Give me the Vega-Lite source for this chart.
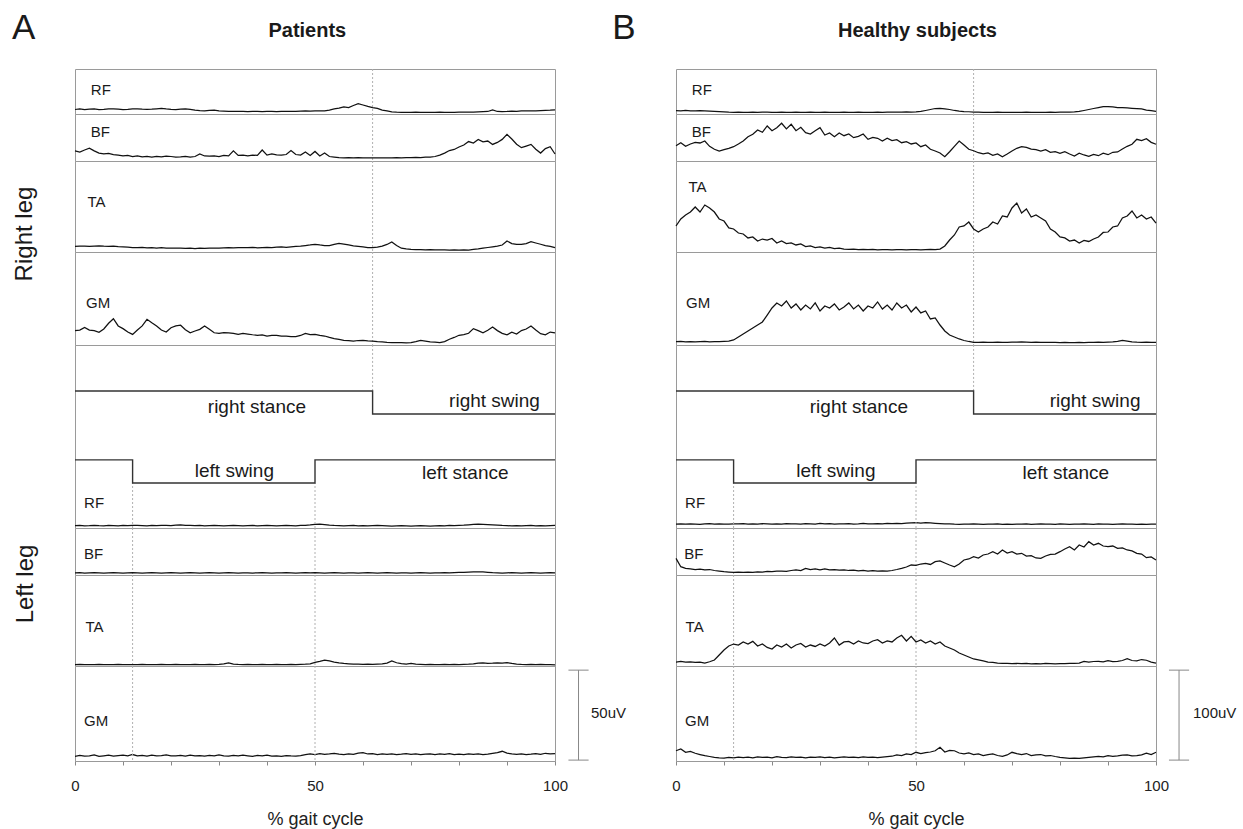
{
"$schema":"https://vega.github.io/schema/vega-lite/v6.json",
"background":"white",
"padding":{"left":11,"top":10,"right":5,"bottom":5},
"bounds":"flush",
"columns":2,
"spacing":{"row":0,"column":121},
"config":{"view":{"stroke":"#9a9a9a","strokeWidth":1},"font":"Liberation Sans","text":{"color":"#1a1a1a","font":"Liberation Sans"},"axis":{"labelFont":"Liberation Sans","titleFont":"Liberation Sans"},"line":{"color":"#111","strokeWidth":1.25}},
"datasets":{
"events":[{"event":"right toe-off","leg":"right","x":62},{"event":"left toe-off","leg":"left","x":12},{"event":"left heel strike","leg":"left","x":50}],
"gait":[{"leg":"right","x":0,"level":7.49},{"leg":"right","x":62,"level":6.23},{"leg":"right","x":100,"level":6.23},{"leg":"left","x":0,"level":3.72},{"leg":"left","x":12,"level":2.46},{"leg":"left","x":50,"level":3.72},{"leg":"left","x":100,"level":3.72}],
"scaleA":[{"lo":0.5,"hi":50.5,"label":"50uV"}],
"scaleB":[{"lo":1,"hi":101,"label":"100uV"}],
"patients":[
{"x":0,"RFr":2.5,"BFr":5.6,"TAr":3.1,"GMr":8.0,"RFl":1.3,"BFl":1.2,"TAl":0.8,"GMl":2.6},
{"x":1,"RFr":2.8,"BFr":5.0,"TAr":3.2,"GMr":8.3,"RFl":1.4,"BFl":1.3,"TAl":0.9,"GMl":3.1},
{"x":2,"RFr":2.5,"BFr":6.1,"TAr":3.3,"GMr":9.8,"RFl":1.2,"BFl":1.1,"TAl":0.8,"GMl":2.7},
{"x":3,"RFr":2.7,"BFr":7.1,"TAr":3.1,"GMr":8.3,"RFl":1.3,"BFl":1.2,"TAl":0.7,"GMl":2.9},
{"x":4,"RFr":2.8,"BFr":5.6,"TAr":3.3,"GMr":8.0,"RFl":1.5,"BFl":1.3,"TAl":0.8,"GMl":3.4},
{"x":5,"RFr":2.5,"BFr":4.4,"TAr":3.4,"GMr":7.1,"RFl":1.3,"BFl":1.2,"TAl":0.9,"GMl":2.6},
{"x":6,"RFr":2.6,"BFr":3.9,"TAr":3.2,"GMr":8.9,"RFl":1.2,"BFl":1.1,"TAl":0.8,"GMl":2.9},
{"x":7,"RFr":2.8,"BFr":4.2,"TAr":3.1,"GMr":12.1,"RFl":1.4,"BFl":1.2,"TAl":0.7,"GMl":3.2},
{"x":8,"RFr":2.9,"BFr":3.6,"TAr":3.2,"GMr":14.6,"RFl":1.3,"BFl":1.3,"TAl":0.8,"GMl":2.7},
{"x":9,"RFr":2.7,"BFr":3.3,"TAr":3.0,"GMr":10.6,"RFl":1.2,"BFl":1.2,"TAl":0.9,"GMl":3.0},
{"x":10,"RFr":2.5,"BFr":2.8,"TAr":2.9,"GMr":9.1,"RFl":1.4,"BFl":1.1,"TAl":0.8,"GMl":3.3},
{"x":11,"RFr":2.6,"BFr":3.1,"TAr":2.7,"GMr":7.2,"RFl":1.3,"BFl":1.2,"TAl":0.8,"GMl":2.8},
{"x":12,"RFr":2.8,"BFr":2.5,"TAr":2.5,"GMr":5.9,"RFl":1.5,"BFl":1.3,"TAl":0.7,"GMl":3.6},
{"x":13,"RFr":2.9,"BFr":2.8,"TAr":2.4,"GMr":8.3,"RFl":1.4,"BFl":1.2,"TAl":0.8,"GMl":2.9},
{"x":14,"RFr":2.7,"BFr":2.3,"TAr":2.6,"GMr":10.6,"RFl":1.3,"BFl":1.1,"TAl":0.9,"GMl":3.1},
{"x":15,"RFr":2.6,"BFr":2.5,"TAr":2.3,"GMr":14.3,"RFl":1.2,"BFl":1.2,"TAl":0.8,"GMl":2.7},
{"x":16,"RFr":2.7,"BFr":2.2,"TAr":2.4,"GMr":12.4,"RFl":1.4,"BFl":1.3,"TAl":0.7,"GMl":3.2},
{"x":17,"RFr":2.9,"BFr":2.5,"TAr":2.2,"GMr":10.6,"RFl":1.3,"BFl":1.2,"TAl":0.8,"GMl":2.9},
{"x":18,"RFr":3.1,"BFr":2.3,"TAr":2.4,"GMr":8.3,"RFl":1.5,"BFl":1.1,"TAl":0.9,"GMl":3.0},
{"x":19,"RFr":2.8,"BFr":2.7,"TAr":2.2,"GMr":7.2,"RFl":1.4,"BFl":1.2,"TAl":0.8,"GMl":3.4},
{"x":20,"RFr":2.6,"BFr":2.5,"TAr":2.1,"GMr":9.6,"RFl":1.3,"BFl":1.3,"TAl":0.8,"GMl":2.8},
{"x":21,"RFr":2.5,"BFr":2.2,"TAr":2.1,"GMr":10.6,"RFl":1.6,"BFl":1.2,"TAl":0.9,"GMl":2.9},
{"x":22,"RFr":2.7,"BFr":2.3,"TAr":2.2,"GMr":11.0,"RFl":1.7,"BFl":1.1,"TAl":0.8,"GMl":3.1},
{"x":23,"RFr":2.8,"BFr":2.6,"TAr":2.0,"GMr":8.5,"RFl":1.5,"BFl":1.2,"TAl":0.7,"GMl":2.7},
{"x":24,"RFr":2.6,"BFr":2.2,"TAr":2.1,"GMr":6.8,"RFl":1.4,"BFl":1.3,"TAl":0.8,"GMl":3.3},
{"x":25,"RFr":2.2,"BFr":2.5,"TAr":1.9,"GMr":7.8,"RFl":1.3,"BFl":1.2,"TAl":0.9,"GMl":2.9},
{"x":26,"RFr":1.9,"BFr":3.9,"TAr":2.1,"GMr":8.7,"RFl":1.4,"BFl":1.1,"TAl":0.8,"GMl":3.0},
{"x":27,"RFr":1.8,"BFr":2.8,"TAr":2.0,"GMr":10.6,"RFl":1.2,"BFl":1.2,"TAl":0.8,"GMl":2.7},
{"x":28,"RFr":2.0,"BFr":2.7,"TAr":2.2,"GMr":8.7,"RFl":1.3,"BFl":1.3,"TAl":0.9,"GMl":3.1},
{"x":29,"RFr":2.1,"BFr":2.9,"TAr":2.1,"GMr":6.8,"RFl":1.4,"BFl":1.2,"TAl":0.8,"GMl":2.8},
{"x":30,"RFr":1.8,"BFr":2.5,"TAr":2.2,"GMr":6.5,"RFl":1.3,"BFl":1.1,"TAl":0.9,"GMl":3.4},
{"x":31,"RFr":1.6,"BFr":3.1,"TAr":2.3,"GMr":6.9,"RFl":1.2,"BFl":1.2,"TAl":1.2,"GMl":2.9},
{"x":32,"RFr":1.4,"BFr":2.8,"TAr":2.4,"GMr":6.8,"RFl":1.3,"BFl":1.3,"TAl":1.7,"GMl":2.7},
{"x":33,"RFr":1.4,"BFr":5.6,"TAr":2.3,"GMr":6.4,"RFl":1.4,"BFl":1.2,"TAl":1.1,"GMl":3.1},
{"x":34,"RFr":1.5,"BFr":3.1,"TAr":2.5,"GMr":5.9,"RFl":1.3,"BFl":1.1,"TAl":0.9,"GMl":2.8},
{"x":35,"RFr":1.4,"BFr":3.3,"TAr":2.4,"GMr":6.4,"RFl":1.2,"BFl":1.2,"TAl":0.8,"GMl":3.2},
{"x":36,"RFr":1.3,"BFr":2.9,"TAr":2.4,"GMr":6.1,"RFl":1.3,"BFl":1.2,"TAl":0.9,"GMl":2.9},
{"x":37,"RFr":1.4,"BFr":3.3,"TAr":2.6,"GMr":5.7,"RFl":1.4,"BFl":1.1,"TAl":0.8,"GMl":2.6},
{"x":38,"RFr":1.4,"BFr":3.1,"TAr":2.3,"GMr":5.4,"RFl":1.2,"BFl":1.2,"TAl":0.8,"GMl":3.1},
{"x":39,"RFr":1.3,"BFr":6.1,"TAr":2.5,"GMr":5.6,"RFl":1.3,"BFl":1.3,"TAl":0.9,"GMl":2.8},
{"x":40,"RFr":1.4,"BFr":3.3,"TAr":2.6,"GMr":5.0,"RFl":1.4,"BFl":1.2,"TAl":0.8,"GMl":3.3},
{"x":41,"RFr":1.4,"BFr":3.9,"TAr":2.4,"GMr":5.3,"RFl":1.3,"BFl":1.1,"TAl":0.8,"GMl":2.7},
{"x":42,"RFr":1.3,"BFr":3.4,"TAr":2.7,"GMr":5.4,"RFl":1.2,"BFl":1.2,"TAl":0.9,"GMl":2.9},
{"x":43,"RFr":1.4,"BFr":3.2,"TAr":2.8,"GMr":4.9,"RFl":1.3,"BFl":1.2,"TAl":0.8,"GMl":2.6},
{"x":44,"RFr":1.5,"BFr":3.6,"TAr":2.6,"GMr":5.0,"RFl":1.4,"BFl":1.3,"TAl":0.8,"GMl":3.0},
{"x":45,"RFr":1.4,"BFr":5.8,"TAr":2.9,"GMr":4.7,"RFl":1.3,"BFl":1.2,"TAl":0.9,"GMl":2.8},
{"x":46,"RFr":1.4,"BFr":3.6,"TAr":3.1,"GMr":4.6,"RFl":1.2,"BFl":1.1,"TAl":0.8,"GMl":2.7},
{"x":47,"RFr":1.6,"BFr":3.3,"TAr":3.3,"GMr":5.3,"RFl":1.4,"BFl":1.2,"TAl":0.9,"GMl":3.0},
{"x":48,"RFr":1.7,"BFr":5.0,"TAr":3.6,"GMr":6.5,"RFl":1.5,"BFl":1.3,"TAl":1.0,"GMl":3.5},
{"x":49,"RFr":1.6,"BFr":3.1,"TAr":3.9,"GMr":5.8,"RFl":1.7,"BFl":1.2,"TAl":1.2,"GMl":3.9},
{"x":50,"RFr":1.7,"BFr":5.3,"TAr":4.3,"GMr":5.9,"RFl":2.0,"BFl":1.3,"TAl":2.0,"GMl":3.6},
{"x":51,"RFr":1.8,"BFr":2.8,"TAr":3.9,"GMr":5.3,"RFl":2.1,"BFl":1.2,"TAl":2.6,"GMl":4.1},
{"x":52,"RFr":1.8,"BFr":4.4,"TAr":3.6,"GMr":5.0,"RFl":1.9,"BFl":1.1,"TAl":3.3,"GMl":3.7},
{"x":53,"RFr":2.2,"BFr":2.5,"TAr":3.5,"GMr":4.2,"RFl":1.6,"BFl":1.2,"TAl":2.8,"GMl":3.9},
{"x":54,"RFr":2.8,"BFr":2.2,"TAr":4.2,"GMr":3.5,"RFl":1.4,"BFl":1.3,"TAl":2.2,"GMl":4.2},
{"x":55,"RFr":3.3,"BFr":1.9,"TAr":4.8,"GMr":3.1,"RFl":1.3,"BFl":1.2,"TAl":1.7,"GMl":3.8},
{"x":56,"RFr":3.9,"BFr":1.8,"TAr":4.4,"GMr":2.6,"RFl":1.2,"BFl":1.1,"TAl":1.4,"GMl":3.6},
{"x":57,"RFr":3.6,"BFr":1.9,"TAr":3.9,"GMr":2.4,"RFl":1.3,"BFl":1.2,"TAl":1.2,"GMl":4.0},
{"x":58,"RFr":4.7,"BFr":1.8,"TAr":3.4,"GMr":2.2,"RFl":1.4,"BFl":1.2,"TAl":1.0,"GMl":3.7},
{"x":59,"RFr":5.8,"BFr":1.9,"TAr":3.1,"GMr":2.5,"RFl":1.2,"BFl":1.1,"TAl":1.1,"GMl":4.4},
{"x":60,"RFr":5.0,"BFr":1.8,"TAr":2.8,"GMr":2.6,"RFl":1.3,"BFl":1.2,"TAl":0.9,"GMl":4.6},
{"x":61,"RFr":4.2,"BFr":1.7,"TAr":2.5,"GMr":2.3,"RFl":1.2,"BFl":1.3,"TAl":1.0,"GMl":3.9},
{"x":62,"RFr":3.6,"BFr":1.8,"TAr":2.4,"GMr":2.2,"RFl":1.3,"BFl":1.2,"TAl":0.9,"GMl":4.1},
{"x":63,"RFr":3.1,"BFr":1.8,"TAr":2.7,"GMr":1.9,"RFl":1.4,"BFl":1.1,"TAl":1.1,"GMl":3.6},
{"x":64,"RFr":2.2,"BFr":1.7,"TAr":3.3,"GMr":1.7,"RFl":1.3,"BFl":1.2,"TAl":1.2,"GMl":3.9},
{"x":65,"RFr":1.7,"BFr":1.8,"TAr":4.2,"GMr":1.4,"RFl":1.2,"BFl":1.3,"TAl":1.6,"GMl":3.7},
{"x":66,"RFr":1.2,"BFr":1.8,"TAr":5.6,"GMr":1.3,"RFl":1.1,"BFl":1.2,"TAl":2.8,"GMl":4.0},
{"x":67,"RFr":1.0,"BFr":1.9,"TAr":3.6,"GMr":1.3,"RFl":1.2,"BFl":1.1,"TAl":1.8,"GMl":3.6},
{"x":68,"RFr":0.9,"BFr":1.8,"TAr":2.1,"GMr":1.3,"RFl":1.3,"BFl":1.2,"TAl":1.3,"GMl":3.8},
{"x":69,"RFr":0.9,"BFr":1.9,"TAr":1.7,"GMr":1.2,"RFl":1.2,"BFl":1.2,"TAl":1.1,"GMl":4.1},
{"x":70,"RFr":0.9,"BFr":1.9,"TAr":1.4,"GMr":1.3,"RFl":1.1,"BFl":1.1,"TAl":1.4,"GMl":3.7},
{"x":71,"RFr":1.0,"BFr":2.0,"TAr":1.3,"GMr":1.9,"RFl":1.2,"BFl":1.2,"TAl":1.0,"GMl":3.9},
{"x":72,"RFr":0.9,"BFr":1.9,"TAr":1.3,"GMr":2.6,"RFl":1.3,"BFl":1.3,"TAl":0.9,"GMl":3.5},
{"x":73,"RFr":0.9,"BFr":2.1,"TAr":1.2,"GMr":2.2,"RFl":1.2,"BFl":1.2,"TAl":0.8,"GMl":3.8},
{"x":74,"RFr":0.9,"BFr":2.2,"TAr":1.3,"GMr":1.8,"RFl":1.1,"BFl":1.1,"TAl":0.9,"GMl":4.0},
{"x":75,"RFr":0.9,"BFr":2.5,"TAr":1.2,"GMr":1.6,"RFl":1.2,"BFl":1.2,"TAl":0.8,"GMl":3.6},
{"x":76,"RFr":1.0,"BFr":3.3,"TAr":1.2,"GMr":1.3,"RFl":1.3,"BFl":1.2,"TAl":0.8,"GMl":3.9},
{"x":77,"RFr":0.9,"BFr":4.4,"TAr":1.2,"GMr":1.9,"RFl":1.2,"BFl":1.3,"TAl":0.9,"GMl":3.7},
{"x":78,"RFr":0.9,"BFr":5.8,"TAr":1.1,"GMr":3.2,"RFl":1.4,"BFl":1.2,"TAl":0.8,"GMl":4.1},
{"x":79,"RFr":0.9,"BFr":6.4,"TAr":1.2,"GMr":4.2,"RFl":1.3,"BFl":1.3,"TAl":0.9,"GMl":3.6},
{"x":80,"RFr":1.0,"BFr":7.8,"TAr":1.1,"GMr":5.4,"RFl":1.5,"BFl":1.4,"TAl":0.8,"GMl":3.8},
{"x":81,"RFr":1.1,"BFr":8.9,"TAr":1.2,"GMr":5.8,"RFl":1.6,"BFl":1.5,"TAl":0.9,"GMl":3.5},
{"x":82,"RFr":1.0,"BFr":10.8,"TAr":1.1,"GMr":6.5,"RFl":1.8,"BFl":1.6,"TAl":1.0,"GMl":3.9},
{"x":83,"RFr":1.1,"BFr":10.0,"TAr":1.4,"GMr":9.1,"RFl":2.0,"BFl":1.7,"TAl":1.2,"GMl":3.7},
{"x":84,"RFr":1.2,"BFr":12.0,"TAr":1.7,"GMr":8.0,"RFl":2.1,"BFl":1.8,"TAl":1.6,"GMl":4.0},
{"x":85,"RFr":1.3,"BFr":10.6,"TAr":2.1,"GMr":6.8,"RFl":2.0,"BFl":1.7,"TAl":1.7,"GMl":3.6},
{"x":86,"RFr":1.4,"BFr":11.1,"TAr":2.5,"GMr":8.2,"RFl":1.9,"BFl":1.5,"TAl":1.5,"GMl":3.8},
{"x":87,"RFr":2.3,"BFr":9.2,"TAr":2.9,"GMr":10.0,"RFl":1.8,"BFl":1.3,"TAl":1.6,"GMl":4.2},
{"x":88,"RFr":1.4,"BFr":10.3,"TAr":3.3,"GMr":8.0,"RFl":1.6,"BFl":1.2,"TAl":1.8,"GMl":4.6},
{"x":89,"RFr":1.3,"BFr":12.0,"TAr":3.9,"GMr":6.5,"RFl":1.4,"BFl":1.1,"TAl":1.6,"GMl":5.4},
{"x":90,"RFr":1.4,"BFr":14.8,"TAr":6.1,"GMr":5.7,"RFl":1.3,"BFl":1.2,"TAl":1.9,"GMl":4.4},
{"x":91,"RFr":1.6,"BFr":12.2,"TAr":4.7,"GMr":7.1,"RFl":1.2,"BFl":1.3,"TAl":1.4,"GMl":3.9},
{"x":92,"RFr":1.5,"BFr":9.3,"TAr":4.2,"GMr":6.1,"RFl":1.3,"BFl":1.2,"TAl":1.1,"GMl":3.7},
{"x":93,"RFr":1.7,"BFr":7.4,"TAr":4.3,"GMr":8.0,"RFl":1.2,"BFl":1.1,"TAl":0.9,"GMl":4.0},
{"x":94,"RFr":1.8,"BFr":8.3,"TAr":4.7,"GMr":8.9,"RFl":1.3,"BFl":1.2,"TAl":0.8,"GMl":3.6},
{"x":95,"RFr":1.7,"BFr":9.2,"TAr":5.7,"GMr":10.6,"RFl":1.4,"BFl":1.3,"TAl":0.9,"GMl":3.8},
{"x":96,"RFr":1.8,"BFr":6.5,"TAr":5.0,"GMr":8.3,"RFl":1.2,"BFl":1.2,"TAl":0.8,"GMl":4.1},
{"x":97,"RFr":1.9,"BFr":4.4,"TAr":4.3,"GMr":6.3,"RFl":1.3,"BFl":1.1,"TAl":0.9,"GMl":3.7},
{"x":98,"RFr":2.0,"BFr":6.9,"TAr":3.6,"GMr":5.7,"RFl":1.2,"BFl":1.2,"TAl":0.8,"GMl":4.3},
{"x":99,"RFr":2.1,"BFr":7.9,"TAr":3.1,"GMr":7.2,"RFl":1.3,"BFl":1.3,"TAl":0.7,"GMl":3.9},
{"x":100,"RFr":2.3,"BFr":3.9,"TAr":2.4,"GMr":6.8,"RFl":1.4,"BFl":1.2,"TAl":0.6,"GMl":4.1}
],
"healthy":[
{"x":0,"RFr":3.7,"BFr":17.0,"TAr":28.9,"GMr":3.7,"RFl":4.2,"BFl":18.5,"TAl":4.4,"GMl":11.4},
{"x":1,"RFr":3.5,"BFr":20.3,"TAr":36.7,"GMr":3.9,"RFl":4.6,"BFl":9.2,"TAl":5.0,"GMl":13.3},
{"x":2,"RFr":3.9,"BFr":16.3,"TAr":41.1,"GMr":3.6,"RFl":4.3,"BFl":7.4,"TAl":4.2,"GMl":9.7},
{"x":3,"RFr":3.6,"BFr":18.9,"TAr":44.4,"GMr":3.8,"RFl":4.7,"BFl":6.7,"TAl":4.7,"GMl":10.6},
{"x":4,"RFr":3.4,"BFr":20.7,"TAr":50.0,"GMr":3.5,"RFl":4.4,"BFl":6.1,"TAl":3.9,"GMl":8.6},
{"x":5,"RFr":3.8,"BFr":20.0,"TAr":44.4,"GMr":3.7,"RFl":4.1,"BFl":6.4,"TAl":4.4,"GMl":7.2},
{"x":6,"RFr":3.5,"BFr":22.2,"TAr":52.2,"GMr":4.0,"RFl":4.5,"BFl":5.6,"TAl":3.3,"GMl":5.9},
{"x":7,"RFr":3.3,"BFr":16.3,"TAr":48.9,"GMr":3.6,"RFl":4.8,"BFl":6.1,"TAl":4.7,"GMl":5.0},
{"x":8,"RFr":3.0,"BFr":13.0,"TAr":44.4,"GMr":3.8,"RFl":4.3,"BFl":5.0,"TAl":6.7,"GMl":4.1},
{"x":9,"RFr":2.7,"BFr":11.1,"TAr":36.7,"GMr":3.7,"RFl":4.6,"BFl":4.4,"TAl":12.2,"GMl":3.6},
{"x":10,"RFr":2.4,"BFr":12.6,"TAr":34.4,"GMr":4.0,"RFl":4.4,"BFl":3.7,"TAl":17.8,"GMl":3.3},
{"x":11,"RFr":2.0,"BFr":14.1,"TAr":26.7,"GMr":4.2,"RFl":4.2,"BFl":3.3,"TAl":22.2,"GMl":4.1},
{"x":12,"RFr":1.9,"BFr":15.9,"TAr":25.6,"GMr":5.6,"RFl":4.7,"BFl":2.8,"TAl":24.4,"GMl":3.6},
{"x":13,"RFr":2.1,"BFr":18.9,"TAr":21.1,"GMr":8.9,"RFl":4.5,"BFl":3.1,"TAl":23.3,"GMl":4.4},
{"x":14,"RFr":1.9,"BFr":22.2,"TAr":20.0,"GMr":12.2,"RFl":4.9,"BFl":2.8,"TAl":26.7,"GMl":3.8},
{"x":15,"RFr":1.8,"BFr":27.0,"TAr":15.6,"GMr":15.6,"RFl":4.4,"BFl":3.3,"TAl":24.4,"GMl":4.2},
{"x":16,"RFr":2.0,"BFr":29.7,"TAr":16.7,"GMr":18.9,"RFl":4.6,"BFl":3.0,"TAl":27.4,"GMl":3.5},
{"x":17,"RFr":1.9,"BFr":34.4,"TAr":12.2,"GMr":22.2,"RFl":4.3,"BFl":3.6,"TAl":22.2,"GMl":4.6},
{"x":18,"RFr":2.1,"BFr":31.9,"TAr":14.4,"GMr":25.6,"RFl":4.8,"BFl":3.3,"TAl":24.4,"GMl":3.9},
{"x":19,"RFr":2.0,"BFr":38.9,"TAr":13.3,"GMr":33.3,"RFl":4.5,"BFl":3.9,"TAl":20.6,"GMl":4.3},
{"x":20,"RFr":1.8,"BFr":33.7,"TAr":15.0,"GMr":41.1,"RFl":4.2,"BFl":3.7,"TAl":18.9,"GMl":3.6},
{"x":21,"RFr":1.9,"BFr":37.0,"TAr":10.0,"GMr":46.7,"RFl":4.6,"BFl":4.2,"TAl":23.3,"GMl":4.8},
{"x":22,"RFr":2.0,"BFr":41.9,"TAr":12.2,"GMr":43.3,"RFl":4.4,"BFl":4.4,"TAl":21.1,"GMl":4.0},
{"x":23,"RFr":1.8,"BFr":35.6,"TAr":9.4,"GMr":48.9,"RFl":4.9,"BFl":4.0,"TAl":24.4,"GMl":3.7},
{"x":24,"RFr":1.9,"BFr":40.8,"TAr":10.0,"GMr":41.1,"RFl":4.5,"BFl":5.0,"TAl":20.0,"GMl":4.5},
{"x":25,"RFr":2.1,"BFr":33.7,"TAr":7.8,"GMr":45.6,"RFl":4.7,"BFl":5.6,"TAl":23.3,"GMl":3.9},
{"x":26,"RFr":1.9,"BFr":37.4,"TAr":8.9,"GMr":38.9,"RFl":4.3,"BFl":5.0,"TAl":25.0,"GMl":4.2},
{"x":27,"RFr":1.8,"BFr":31.4,"TAr":6.1,"GMr":44.4,"RFl":4.8,"BFl":7.4,"TAl":21.1,"GMl":3.6},
{"x":28,"RFr":2.0,"BFr":30.0,"TAr":6.7,"GMr":40.0,"RFl":4.6,"BFl":6.1,"TAl":23.3,"GMl":4.4},
{"x":29,"RFr":1.9,"BFr":33.7,"TAr":5.0,"GMr":46.7,"RFl":4.4,"BFl":6.7,"TAl":21.7,"GMl":4.0},
{"x":30,"RFr":1.8,"BFr":37.0,"TAr":5.6,"GMr":37.8,"RFl":5.0,"BFl":5.8,"TAl":24.4,"GMl":4.7},
{"x":31,"RFr":2.0,"BFr":28.9,"TAr":4.2,"GMr":43.3,"RFl":4.6,"BFl":6.7,"TAl":22.2,"GMl":3.8},
{"x":32,"RFr":1.9,"BFr":31.1,"TAr":5.0,"GMr":41.1,"RFl":4.8,"BFl":5.6,"TAl":25.6,"GMl":4.3},
{"x":33,"RFr":1.8,"BFr":27.0,"TAr":3.7,"GMr":45.6,"RFl":4.3,"BFl":6.1,"TAl":31.1,"GMl":3.6},
{"x":34,"RFr":1.9,"BFr":31.1,"TAr":4.2,"GMr":38.9,"RFl":4.7,"BFl":5.3,"TAl":23.3,"GMl":4.1},
{"x":35,"RFr":2.0,"BFr":28.1,"TAr":3.3,"GMr":42.2,"RFl":4.5,"BFl":5.6,"TAl":26.7,"GMl":4.5},
{"x":36,"RFr":1.8,"BFr":30.0,"TAr":2.9,"GMr":46.7,"RFl":4.9,"BFl":5.0,"TAl":27.4,"GMl":3.9},
{"x":37,"RFr":1.9,"BFr":25.9,"TAr":3.1,"GMr":40.0,"RFl":4.4,"BFl":5.3,"TAl":24.4,"GMl":4.2},
{"x":38,"RFr":2.0,"BFr":27.4,"TAr":2.7,"GMr":44.4,"RFl":4.6,"BFl":4.7,"TAl":27.8,"GMl":3.7},
{"x":39,"RFr":1.9,"BFr":30.0,"TAr":2.9,"GMr":37.8,"RFl":5.0,"BFl":5.0,"TAl":25.6,"GMl":4.6},
{"x":40,"RFr":1.8,"BFr":24.1,"TAr":2.6,"GMr":43.3,"RFl":4.7,"BFl":4.4,"TAl":25.0,"GMl":4.0},
{"x":41,"RFr":1.9,"BFr":26.3,"TAr":2.8,"GMr":41.1,"RFl":4.5,"BFl":4.8,"TAl":27.8,"GMl":4.3},
{"x":42,"RFr":2.0,"BFr":25.2,"TAr":2.4,"GMr":47.8,"RFl":4.9,"BFl":4.2,"TAl":29.2,"GMl":3.8},
{"x":43,"RFr":1.9,"BFr":22.2,"TAr":2.7,"GMr":40.0,"RFl":4.6,"BFl":4.7,"TAl":25.6,"GMl":4.4},
{"x":44,"RFr":2.1,"BFr":25.2,"TAr":2.6,"GMr":44.4,"RFl":5.1,"BFl":4.4,"TAl":27.8,"GMl":4.9},
{"x":45,"RFr":2.0,"BFr":22.6,"TAr":2.4,"GMr":38.9,"RFl":4.8,"BFl":5.0,"TAl":26.7,"GMl":5.3},
{"x":46,"RFr":2.2,"BFr":23.7,"TAr":2.7,"GMr":46.7,"RFl":5.2,"BFl":6.1,"TAl":31.1,"GMl":6.7},
{"x":47,"RFr":2.1,"BFr":20.3,"TAr":2.6,"GMr":41.1,"RFl":4.9,"BFl":7.4,"TAl":34.1,"GMl":6.1},
{"x":48,"RFr":2.3,"BFr":21.4,"TAr":2.4,"GMr":44.4,"RFl":5.4,"BFl":8.9,"TAl":27.8,"GMl":7.8},
{"x":49,"RFr":2.2,"BFr":18.9,"TAr":2.7,"GMr":36.7,"RFl":5.6,"BFl":11.1,"TAl":33.0,"GMl":7.2},
{"x":50,"RFr":2.4,"BFr":20.0,"TAr":2.6,"GMr":42.2,"RFl":5.9,"BFl":10.6,"TAl":26.7,"GMl":9.7},
{"x":51,"RFr":2.8,"BFr":15.9,"TAr":2.4,"GMr":35.6,"RFl":5.5,"BFl":12.2,"TAl":28.9,"GMl":8.3},
{"x":52,"RFr":3.9,"BFr":17.8,"TAr":2.6,"GMr":37.8,"RFl":6.0,"BFl":13.0,"TAl":25.6,"GMl":9.4},
{"x":53,"RFr":5.0,"BFr":13.0,"TAr":2.8,"GMr":28.9,"RFl":5.6,"BFl":11.7,"TAl":27.8,"GMl":10.0},
{"x":54,"RFr":6.1,"BFr":11.1,"TAr":2.7,"GMr":30.0,"RFl":5.2,"BFl":14.8,"TAl":24.4,"GMl":11.4},
{"x":55,"RFr":6.3,"BFr":8.9,"TAr":3.3,"GMr":22.2,"RFl":4.8,"BFl":15.6,"TAl":26.7,"GMl":15.2},
{"x":56,"RFr":5.8,"BFr":4.8,"TAr":6.7,"GMr":15.6,"RFl":4.5,"BFl":13.3,"TAl":22.2,"GMl":10.0},
{"x":57,"RFr":5.0,"BFr":10.3,"TAr":13.3,"GMr":11.1,"RFl":4.7,"BFl":11.1,"TAl":20.0,"GMl":11.7},
{"x":58,"RFr":3.9,"BFr":16.3,"TAr":18.9,"GMr":8.9,"RFl":4.3,"BFl":9.2,"TAl":17.8,"GMl":11.4},
{"x":59,"RFr":3.1,"BFr":22.2,"TAr":27.8,"GMr":6.7,"RFl":4.1,"BFl":12.2,"TAl":14.4,"GMl":8.9},
{"x":60,"RFr":2.6,"BFr":17.8,"TAr":28.9,"GMr":5.0,"RFl":4.4,"BFl":16.7,"TAl":12.2,"GMl":7.8},
{"x":61,"RFr":2.5,"BFr":13.0,"TAr":33.3,"GMr":3.9,"RFl":4.2,"BFl":17.8,"TAl":10.0,"GMl":8.9},
{"x":62,"RFr":2.2,"BFr":11.4,"TAr":25.6,"GMr":3.0,"RFl":4.6,"BFl":20.3,"TAl":7.8,"GMl":7.2},
{"x":63,"RFr":2.0,"BFr":9.2,"TAr":22.2,"GMr":2.8,"RFl":4.3,"BFl":18.9,"TAl":6.7,"GMl":7.8},
{"x":64,"RFr":1.9,"BFr":7.8,"TAr":25.6,"GMr":3.1,"RFl":4.0,"BFl":22.2,"TAl":5.6,"GMl":5.9},
{"x":65,"RFr":1.8,"BFr":8.9,"TAr":27.8,"GMr":3.0,"RFl":4.4,"BFl":23.3,"TAl":4.4,"GMl":7.2},
{"x":66,"RFr":1.9,"BFr":6.3,"TAr":33.3,"GMr":2.9,"RFl":4.2,"BFl":25.9,"TAl":3.9,"GMl":7.8},
{"x":67,"RFr":2.0,"BFr":7.8,"TAr":31.1,"GMr":3.2,"RFl":4.5,"BFl":23.3,"TAl":3.3,"GMl":6.1},
{"x":68,"RFr":1.9,"BFr":4.8,"TAr":40.0,"GMr":3.0,"RFl":4.1,"BFl":27.8,"TAl":3.0,"GMl":5.2},
{"x":69,"RFr":1.8,"BFr":7.8,"TAr":38.9,"GMr":2.9,"RFl":4.3,"BFl":24.4,"TAl":2.8,"GMl":6.7},
{"x":70,"RFr":1.9,"BFr":11.1,"TAr":48.9,"GMr":3.3,"RFl":4.0,"BFl":25.9,"TAl":2.7,"GMl":9.7},
{"x":71,"RFr":1.8,"BFr":14.1,"TAr":54.4,"GMr":3.1,"RFl":4.4,"BFl":23.3,"TAl":2.8,"GMl":8.3},
{"x":72,"RFr":1.9,"BFr":15.9,"TAr":43.3,"GMr":3.4,"RFl":4.2,"BFl":24.1,"TAl":2.6,"GMl":7.2},
{"x":73,"RFr":2.0,"BFr":15.2,"TAr":47.8,"GMr":3.2,"RFl":4.5,"BFl":21.1,"TAl":2.8,"GMl":8.3},
{"x":74,"RFr":1.9,"BFr":13.3,"TAr":38.9,"GMr":3.0,"RFl":4.1,"BFl":21.4,"TAl":2.4,"GMl":5.9},
{"x":75,"RFr":1.8,"BFr":12.6,"TAr":41.1,"GMr":3.1,"RFl":4.3,"BFl":18.9,"TAl":2.7,"GMl":6.7},
{"x":76,"RFr":1.9,"BFr":11.1,"TAr":37.8,"GMr":2.9,"RFl":4.6,"BFl":18.6,"TAl":2.4,"GMl":7.2},
{"x":77,"RFr":1.9,"BFr":12.6,"TAr":34.4,"GMr":3.0,"RFl":4.2,"BFl":21.1,"TAl":2.8,"GMl":5.6},
{"x":78,"RFr":2.0,"BFr":9.7,"TAr":25.6,"GMr":2.8,"RFl":4.4,"BFl":23.0,"TAl":2.6,"GMl":6.1},
{"x":79,"RFr":1.9,"BFr":10.3,"TAr":22.2,"GMr":2.9,"RFl":4.1,"BFl":23.3,"TAl":2.4,"GMl":5.0},
{"x":80,"RFr":2.0,"BFr":8.6,"TAr":16.7,"GMr":2.7,"RFl":4.5,"BFl":25.9,"TAl":2.7,"GMl":4.1},
{"x":81,"RFr":2.1,"BFr":10.3,"TAr":15.6,"GMr":2.8,"RFl":4.3,"BFl":28.9,"TAl":2.6,"GMl":3.6},
{"x":82,"RFr":2.2,"BFr":7.8,"TAr":12.2,"GMr":2.6,"RFl":4.0,"BFl":31.4,"TAl":2.9,"GMl":3.0},
{"x":83,"RFr":2.4,"BFr":5.6,"TAr":13.3,"GMr":2.7,"RFl":4.4,"BFl":27.8,"TAl":2.8,"GMl":3.3},
{"x":84,"RFr":2.8,"BFr":8.6,"TAr":10.0,"GMr":2.8,"RFl":4.2,"BFl":33.3,"TAl":3.3,"GMl":3.0},
{"x":85,"RFr":3.9,"BFr":6.7,"TAr":12.8,"GMr":2.7,"RFl":4.6,"BFl":31.1,"TAl":5.0,"GMl":3.6},
{"x":86,"RFr":5.0,"BFr":5.2,"TAr":11.7,"GMr":2.9,"RFl":4.3,"BFl":37.0,"TAl":4.4,"GMl":4.1},
{"x":87,"RFr":6.1,"BFr":7.4,"TAr":14.4,"GMr":3.0,"RFl":4.1,"BFl":33.3,"TAl":5.0,"GMl":4.7},
{"x":88,"RFr":7.2,"BFr":5.9,"TAr":16.7,"GMr":3.1,"RFl":4.5,"BFl":35.2,"TAl":5.2,"GMl":5.2},
{"x":89,"RFr":8.1,"BFr":8.6,"TAr":21.7,"GMr":3.0,"RFl":4.2,"BFl":32.2,"TAl":4.7,"GMl":4.7},
{"x":90,"RFr":8.1,"BFr":7.0,"TAr":22.2,"GMr":3.2,"RFl":4.4,"BFl":31.4,"TAl":5.9,"GMl":5.9},
{"x":91,"RFr":7.8,"BFr":9.7,"TAr":27.8,"GMr":3.4,"RFl":4.0,"BFl":32.2,"TAl":5.0,"GMl":5.2},
{"x":92,"RFr":7.2,"BFr":10.0,"TAr":28.9,"GMr":4.0,"RFl":4.3,"BFl":29.7,"TAl":5.2,"GMl":5.6},
{"x":93,"RFr":7.0,"BFr":13.3,"TAr":37.8,"GMr":5.0,"RFl":4.6,"BFl":30.0,"TAl":6.1,"GMl":6.4},
{"x":94,"RFr":6.7,"BFr":16.3,"TAr":40.0,"GMr":4.4,"RFl":4.2,"BFl":27.8,"TAl":8.1,"GMl":6.7},
{"x":95,"RFr":6.3,"BFr":18.6,"TAr":45.6,"GMr":3.6,"RFl":4.4,"BFl":26.7,"TAl":6.1,"GMl":5.6},
{"x":96,"RFr":5.9,"BFr":24.1,"TAr":37.8,"GMr":3.2,"RFl":4.1,"BFl":24.1,"TAl":5.6,"GMl":6.1},
{"x":97,"RFr":5.6,"BFr":22.6,"TAr":41.1,"GMr":3.0,"RFl":4.3,"BFl":23.3,"TAl":7.2,"GMl":6.9},
{"x":98,"RFr":4.4,"BFr":24.8,"TAr":36.7,"GMr":3.1,"RFl":4.0,"BFl":19.2,"TAl":6.4,"GMl":8.6},
{"x":99,"RFr":3.7,"BFr":20.7,"TAr":38.9,"GMr":2.9,"RFl":4.2,"BFl":20.0,"TAl":4.4,"GMl":7.2},
{"x":100,"RFr":3.0,"BFr":18.6,"TAr":32.2,"GMr":3.0,"RFl":4.4,"BFl":16.7,"TAl":3.3,"GMl":9.7}
]
},
"concat":[
{"data":{"name":"patients"},"width":480,"height":45,"layer":[
 {"data":{"name":"events"},"transform":[{"filter":"datum.leg === 'right'"}],"mark":{"type":"rule","color":"#b0b0b0","strokeDash":[2,2],"strokeWidth":1},"encoding":{"x":{"field":"x","type":"quantitative","axis":null}}},
 {"mark":{"type":"line"},"encoding":{"x":{"field":"x","type":"quantitative","scale":{"domain":[0,100],"nice":false,"zero":false},"axis":null},"y":{"field":"RFr","type":"quantitative","scale":{"domain":[0,25],"nice":false,"zero":false},"axis":null}}},
 {"data":{"values":[{}]},"mark":{"type":"text","text":"RF","align":"left","baseline":"middle","fontSize":15},"encoding":{"x":{"datum":3.3,"axis":null},"y":{"datum":13.5,"axis":null}}},
 {"data":{"values":[{}]},"mark":{"type":"text","text":"A","align":"left","baseline":"alphabetic","fontSize":35},"encoding":{"x":{"datum":-13.1,"axis":null},"y":{"datum":41.7,"axis":null}}},
 {"data":{"values":[{}]},"mark":{"type":"text","text":"Patients","align":"center","baseline":"alphabetic","fontSize":20,"fontWeight":"bold"},"encoding":{"x":{"datum":48.4,"axis":null},"y":{"datum":42.8,"axis":null}}}
]},
{"data":{"name":"healthy"},"width":480,"height":45,"layer":[
 {"data":{"name":"events"},"transform":[{"filter":"datum.leg === 'right'"}],"mark":{"type":"rule","color":"#b0b0b0","strokeDash":[2,2],"strokeWidth":1},"encoding":{"x":{"field":"x","type":"quantitative","axis":null}}},
 {"mark":{"type":"line"},"encoding":{"x":{"field":"x","type":"quantitative","scale":{"domain":[0,100],"nice":false,"zero":false},"axis":null},"y":{"field":"RFr","type":"quantitative","scale":{"domain":[0,50],"nice":false,"zero":false},"axis":null}}},
 {"data":{"values":[{}]},"mark":{"type":"text","text":"RF","align":"left","baseline":"middle","fontSize":15},"encoding":{"x":{"datum":3.3,"axis":null},"y":{"datum":27,"axis":null}}},
 {"data":{"values":[{}]},"mark":{"type":"text","text":"B","align":"left","baseline":"alphabetic","fontSize":35},"encoding":{"x":{"datum":-13.3,"axis":null},"y":{"datum":83.3,"axis":null}}},
 {"data":{"values":[{}]},"mark":{"type":"text","text":"Healthy subjects","align":"center","baseline":"alphabetic","fontSize":20,"fontWeight":"bold"},"encoding":{"x":{"datum":50.3,"axis":null},"y":{"datum":85.6,"axis":null}}}
]},
{"data":{"name":"patients"},"width":480,"height":47,"layer":[
 {"data":{"name":"events"},"transform":[{"filter":"datum.leg === 'right'"}],"mark":{"type":"rule","color":"#b0b0b0","strokeDash":[2,2],"strokeWidth":1},"encoding":{"x":{"field":"x","type":"quantitative","axis":null}}},
 {"mark":{"type":"line"},"encoding":{"x":{"field":"x","type":"quantitative","scale":{"domain":[0,100],"nice":false,"zero":false},"axis":null},"y":{"field":"BFr","type":"quantitative","scale":{"domain":[0,26.1],"nice":false,"zero":false},"axis":null}}},
 {"data":{"values":[{}]},"mark":{"type":"text","text":"BF","align":"left","baseline":"middle","fontSize":15},"encoding":{"x":{"datum":3.3,"axis":null},"y":{"datum":15.9,"axis":null}}}
]},
{"data":{"name":"healthy"},"width":480,"height":47,"layer":[
 {"data":{"name":"events"},"transform":[{"filter":"datum.leg === 'right'"}],"mark":{"type":"rule","color":"#b0b0b0","strokeDash":[2,2],"strokeWidth":1},"encoding":{"x":{"field":"x","type":"quantitative","axis":null}}},
 {"mark":{"type":"line"},"encoding":{"x":{"field":"x","type":"quantitative","scale":{"domain":[0,100],"nice":false,"zero":false},"axis":null},"y":{"field":"BFr","type":"quantitative","scale":{"domain":[0,52.2],"nice":false,"zero":false},"axis":null}}},
 {"data":{"values":[{}]},"mark":{"type":"text","text":"BF","align":"left","baseline":"middle","fontSize":15},"encoding":{"x":{"datum":3.3,"axis":null},"y":{"datum":31.9,"axis":null}}}
]},
{"data":{"name":"patients"},"width":480,"height":91,"layer":[
 {"data":{"name":"events"},"transform":[{"filter":"datum.leg === 'right'"}],"mark":{"type":"rule","color":"#b0b0b0","strokeDash":[2,2],"strokeWidth":1},"encoding":{"x":{"field":"x","type":"quantitative","axis":null}}},
 {"mark":{"type":"line"},"encoding":{"x":{"field":"x","type":"quantitative","scale":{"domain":[0,100],"nice":false,"zero":false},"axis":null},"y":{"field":"TAr","type":"quantitative","scale":{"domain":[0,50.6],"nice":false,"zero":false},"axis":null}}},
 {"data":{"values":[{}]},"mark":{"type":"text","text":"TA","align":"left","baseline":"middle","fontSize":15},"encoding":{"x":{"datum":2.6,"axis":null},"y":{"datum":27.9,"axis":null}}},
 {"data":{"values":[{}]},"mark":{"type":"text","text":"Right leg","align":"center","baseline":"middle","angle":270,"fontSize":24},"encoding":{"x":{"datum":-10.4,"axis":null},"y":{"datum":10,"axis":null}}}
]},
{"data":{"name":"healthy"},"width":480,"height":91,"layer":[
 {"data":{"name":"events"},"transform":[{"filter":"datum.leg === 'right'"}],"mark":{"type":"rule","color":"#b0b0b0","strokeDash":[2,2],"strokeWidth":1},"encoding":{"x":{"field":"x","type":"quantitative","axis":null}}},
 {"mark":{"type":"line"},"encoding":{"x":{"field":"x","type":"quantitative","scale":{"domain":[0,100],"nice":false,"zero":false},"axis":null},"y":{"field":"TAr","type":"quantitative","scale":{"domain":[0,101.1],"nice":false,"zero":false},"axis":null}}},
 {"data":{"values":[{}]},"mark":{"type":"text","text":"TA","align":"left","baseline":"middle","fontSize":15},"encoding":{"x":{"datum":2.6,"axis":null},"y":{"datum":71.9,"axis":null}}}
]},
{"data":{"name":"patients"},"width":480,"height":93,"layer":[
 {"data":{"name":"events"},"transform":[{"filter":"datum.leg === 'right'"}],"mark":{"type":"rule","color":"#b0b0b0","strokeDash":[2,2],"strokeWidth":1},"encoding":{"x":{"field":"x","type":"quantitative","axis":null}}},
 {"mark":{"type":"line"},"encoding":{"x":{"field":"x","type":"quantitative","scale":{"domain":[0,100],"nice":false,"zero":false},"axis":null},"y":{"field":"GMr","type":"quantitative","scale":{"domain":[0,51.7],"nice":false,"zero":false},"axis":null}}},
 {"data":{"values":[{}]},"mark":{"type":"text","text":"GM","align":"left","baseline":"middle","fontSize":15},"encoding":{"x":{"datum":2.3,"axis":null},"y":{"datum":23.3,"axis":null}}}
]},
{"data":{"name":"healthy"},"width":480,"height":93,"layer":[
 {"data":{"name":"events"},"transform":[{"filter":"datum.leg === 'right'"}],"mark":{"type":"rule","color":"#b0b0b0","strokeDash":[2,2],"strokeWidth":1},"encoding":{"x":{"field":"x","type":"quantitative","axis":null}}},
 {"mark":{"type":"line"},"encoding":{"x":{"field":"x","type":"quantitative","scale":{"domain":[0,100],"nice":false,"zero":false},"axis":null},"y":{"field":"GMr","type":"quantitative","scale":{"domain":[0,103.3],"nice":false,"zero":false},"axis":null}}},
 {"data":{"values":[{}]},"mark":{"type":"text","text":"GM","align":"left","baseline":"middle","fontSize":15},"encoding":{"x":{"datum":2.1,"axis":null},"y":{"datum":46.7,"axis":null}}}
]},
{"data":{"name":"patients"},"width":480,"height":183,"resolve":{"scale":{"y":"independent"}},"layer":[
 {"mark":{"type":"line"},"encoding":{"x":{"field":"x","type":"quantitative","scale":{"domain":[0,100],"nice":false,"zero":false},"axis":null},"y":{"field":"RFl","type":"quantitative","scale":{"domain":[0,101.7],"nice":false,"zero":false},"axis":null}}},
 {"data":{"name":"gait"},"layer":[
  {"data":{"name":"events"},"transform":[{"filter":"datum.leg === 'right'"}],"mark":{"type":"rule","color":"#b0b0b0","strokeDash":[2,2],"strokeWidth":1},"encoding":{"x":{"field":"x","type":"quantitative","axis":null},"y":{"datum":7.49,"axis":null},"y2":{"datum":10}}},
  {"data":{"name":"events"},"transform":[{"filter":"datum.leg === 'left'"}],"mark":{"type":"rule","color":"#b0b0b0","strokeDash":[2,2],"strokeWidth":1},"encoding":{"x":{"field":"x","type":"quantitative","axis":null},"y":{"datum":0,"axis":null},"y2":{"datum":2.46}}},
  {"mark":{"type":"line","interpolate":"step-after","color":"#333","strokeWidth":1.4},"encoding":{"x":{"field":"x","type":"quantitative","axis":null},"y":{"field":"level","type":"quantitative","scale":{"domain":[0,10],"nice":false,"zero":false},"axis":null},"detail":{"field":"leg","type":"nominal"}}},
  {"data":{"values":[{}]},"mark":{"type":"text","text":"right stance","align":"center","baseline":"middle","fontSize":19},"encoding":{"x":{"datum":37.9,"axis":null},"y":{"datum":6.61,"axis":null}}},
  {"data":{"values":[{}]},"mark":{"type":"text","text":"right swing","align":"center","baseline":"middle","fontSize":19},"encoding":{"x":{"datum":87.4,"axis":null},"y":{"datum":6.94,"axis":null}}},
  {"data":{"values":[{}]},"mark":{"type":"text","text":"left swing","align":"center","baseline":"middle","fontSize":19},"encoding":{"x":{"datum":33.2,"axis":null},"y":{"datum":3.11,"axis":null}}},
  {"data":{"values":[{}]},"mark":{"type":"text","text":"left stance","align":"center","baseline":"middle","fontSize":19},"encoding":{"x":{"datum":81.3,"axis":null},"y":{"datum":3.01,"axis":null}}},
  {"data":{"values":[{}]},"mark":{"type":"text","text":"RF","align":"left","baseline":"middle","fontSize":15},"encoding":{"x":{"datum":1.9,"axis":null},"y":{"datum":1.37,"axis":null}}}
 ]}
]},
{"data":{"name":"healthy"},"width":480,"height":183,"resolve":{"scale":{"y":"independent"}},"layer":[
 {"mark":{"type":"line"},"encoding":{"x":{"field":"x","type":"quantitative","scale":{"domain":[0,100],"nice":false,"zero":false},"axis":null},"y":{"field":"RFl","type":"quantitative","scale":{"domain":[0,203.3],"nice":false,"zero":false},"axis":null}}},
 {"data":{"name":"gait"},"layer":[
  {"data":{"name":"events"},"transform":[{"filter":"datum.leg === 'right'"}],"mark":{"type":"rule","color":"#b0b0b0","strokeDash":[2,2],"strokeWidth":1},"encoding":{"x":{"field":"x","type":"quantitative","axis":null},"y":{"datum":7.49,"axis":null},"y2":{"datum":10}}},
  {"data":{"name":"events"},"transform":[{"filter":"datum.leg === 'left'"}],"mark":{"type":"rule","color":"#b0b0b0","strokeDash":[2,2],"strokeWidth":1},"encoding":{"x":{"field":"x","type":"quantitative","axis":null},"y":{"datum":0,"axis":null},"y2":{"datum":2.46}}},
  {"mark":{"type":"line","interpolate":"step-after","color":"#333","strokeWidth":1.4},"encoding":{"x":{"field":"x","type":"quantitative","axis":null},"y":{"field":"level","type":"quantitative","scale":{"domain":[0,10],"nice":false,"zero":false},"axis":null},"detail":{"field":"leg","type":"nominal"}}},
  {"data":{"values":[{}]},"mark":{"type":"text","text":"right stance","align":"center","baseline":"middle","fontSize":19},"encoding":{"x":{"datum":38.1,"axis":null},"y":{"datum":6.61,"axis":null}}},
  {"data":{"values":[{}]},"mark":{"type":"text","text":"right swing","align":"center","baseline":"middle","fontSize":19},"encoding":{"x":{"datum":87.3,"axis":null},"y":{"datum":6.94,"axis":null}}},
  {"data":{"values":[{}]},"mark":{"type":"text","text":"left swing","align":"center","baseline":"middle","fontSize":19},"encoding":{"x":{"datum":33.3,"axis":null},"y":{"datum":3.11,"axis":null}}},
  {"data":{"values":[{}]},"mark":{"type":"text","text":"left stance","align":"center","baseline":"middle","fontSize":19},"encoding":{"x":{"datum":81.2,"axis":null},"y":{"datum":3.01,"axis":null}}},
  {"data":{"values":[{}]},"mark":{"type":"text","text":"RF","align":"left","baseline":"middle","fontSize":15},"encoding":{"x":{"datum":1.9,"axis":null},"y":{"datum":1.37,"axis":null}}}
 ]}
]},
{"data":{"name":"patients"},"width":480,"height":47,"layer":[
 {"data":{"name":"events"},"transform":[{"filter":"datum.leg === 'left'"}],"mark":{"type":"rule","color":"#b0b0b0","strokeDash":[2,2],"strokeWidth":1},"encoding":{"x":{"field":"x","type":"quantitative","axis":null}}},
 {"mark":{"type":"line"},"encoding":{"x":{"field":"x","type":"quantitative","scale":{"domain":[0,100],"nice":false,"zero":false},"axis":null},"y":{"field":"BFl","type":"quantitative","scale":{"domain":[0,26.1],"nice":false,"zero":false},"axis":null}}},
 {"data":{"values":[{}]},"mark":{"type":"text","text":"BF","align":"left","baseline":"middle","fontSize":15},"encoding":{"x":{"datum":1.9,"axis":null},"y":{"datum":11.7,"axis":null}}}
]},
{"data":{"name":"healthy"},"width":480,"height":47,"layer":[
 {"data":{"name":"events"},"transform":[{"filter":"datum.leg === 'left'"}],"mark":{"type":"rule","color":"#b0b0b0","strokeDash":[2,2],"strokeWidth":1},"encoding":{"x":{"field":"x","type":"quantitative","axis":null}}},
 {"mark":{"type":"line"},"encoding":{"x":{"field":"x","type":"quantitative","scale":{"domain":[0,100],"nice":false,"zero":false},"axis":null},"y":{"field":"BFl","type":"quantitative","scale":{"domain":[0,52.2],"nice":false,"zero":false},"axis":null}}},
 {"data":{"values":[{}]},"mark":{"type":"text","text":"BF","align":"left","baseline":"middle","fontSize":15},"encoding":{"x":{"datum":1.7,"axis":null},"y":{"datum":23.3,"axis":null}}}
]},
{"data":{"name":"patients"},"width":480,"height":91,"layer":[
 {"data":{"name":"events"},"transform":[{"filter":"datum.leg === 'left'"}],"mark":{"type":"rule","color":"#b0b0b0","strokeDash":[2,2],"strokeWidth":1},"encoding":{"x":{"field":"x","type":"quantitative","axis":null}}},
 {"mark":{"type":"line"},"encoding":{"x":{"field":"x","type":"quantitative","scale":{"domain":[0,100],"nice":false,"zero":false},"axis":null},"y":{"field":"TAl","type":"quantitative","scale":{"domain":[0,50.6],"nice":false,"zero":false},"axis":null}}},
 {"data":{"values":[{}]},"mark":{"type":"text","text":"TA","align":"left","baseline":"middle","fontSize":15},"encoding":{"x":{"datum":2.2,"axis":null},"y":{"datum":21.8,"axis":null}}},
 {"data":{"values":[{}]},"mark":{"type":"text","text":"Left leg","align":"center","baseline":"middle","angle":270,"fontSize":24},"encoding":{"x":{"datum":-10.2,"axis":null},"y":{"datum":45.6,"axis":null}}}
]},
{"data":{"name":"healthy"},"width":480,"height":91,"layer":[
 {"data":{"name":"events"},"transform":[{"filter":"datum.leg === 'left'"}],"mark":{"type":"rule","color":"#b0b0b0","strokeDash":[2,2],"strokeWidth":1},"encoding":{"x":{"field":"x","type":"quantitative","axis":null}}},
 {"mark":{"type":"line"},"encoding":{"x":{"field":"x","type":"quantitative","scale":{"domain":[0,100],"nice":false,"zero":false},"axis":null},"y":{"field":"TAl","type":"quantitative","scale":{"domain":[0,101.1],"nice":false,"zero":false},"axis":null}}},
 {"data":{"values":[{}]},"mark":{"type":"text","text":"TA","align":"left","baseline":"middle","fontSize":15},"encoding":{"x":{"datum":2.0,"axis":null},"y":{"datum":43.7,"axis":null}}}
]},
{"data":{"name":"patients"},"width":480,"height":95,"layer":[
 {"mark":{"type":"line"},"encoding":{"x":{"field":"x","type":"quantitative","scale":{"domain":[0,100],"nice":false,"zero":false},"axis":{"values":[0,10,20,30,40,50,60,70,80,90,100],"labelExpr":"datum.value % 50 === 0 ? datum.label : ''","title":"% gait cycle","labelFontSize":15,"titleFontSize":18,"titleFontWeight":"normal","labelPadding":13,"titlePadding":17,"tickSize":4,"tickColor":"#888","domainColor":"#999","labelColor":"#222","titleColor":"#222","grid":false,"labelOverlap":false,"labelFlush":false}},"y":{"field":"GMl","type":"quantitative","scale":{"domain":[0,52.8],"nice":false,"zero":false},"axis":null}}},
 {"data":{"name":"events"},"transform":[{"filter":"datum.leg === 'left'"}],"mark":{"type":"rule","color":"#b0b0b0","strokeDash":[2,2],"strokeWidth":1},"encoding":{"x":{"field":"x","type":"quantitative"}}},
 {"data":{"values":[{}]},"mark":{"type":"text","text":"GM","align":"left","baseline":"middle","fontSize":15},"encoding":{"x":{"datum":1.9},"y":{"datum":22.4,"axis":null}}},
 {"data":{"name":"scaleA"},"layer":[
  {"mark":{"type":"rule","color":"#888"},"encoding":{"x":{"datum":104.9},"y":{"field":"lo","type":"quantitative","axis":null},"y2":{"field":"hi"}}},
  {"mark":{"type":"rule","color":"#888"},"encoding":{"x":{"datum":102.8},"x2":{"datum":107.0},"y":{"field":"lo","type":"quantitative","axis":null}}},
  {"mark":{"type":"rule","color":"#888"},"encoding":{"x":{"datum":102.8},"x2":{"datum":107.0},"y":{"field":"hi","type":"quantitative","axis":null}}},
  {"mark":{"type":"text","align":"left","baseline":"middle","fontSize":15},"encoding":{"x":{"datum":107.5},"y":{"datum":26.7,"axis":null},"text":{"field":"label"}}}
 ]}
]},
{"data":{"name":"healthy"},"width":480,"height":95,"layer":[
 {"mark":{"type":"line"},"encoding":{"x":{"field":"x","type":"quantitative","scale":{"domain":[0,100],"nice":false,"zero":false},"axis":{"values":[0,10,20,30,40,50,60,70,80,90,100],"labelExpr":"datum.value % 50 === 0 ? datum.label : ''","title":"% gait cycle","labelFontSize":15,"titleFontSize":18,"titleFontWeight":"normal","labelPadding":13,"titlePadding":17,"tickSize":4,"tickColor":"#888","domainColor":"#999","labelColor":"#222","titleColor":"#222","grid":false,"labelOverlap":false,"labelFlush":false}},"y":{"field":"GMl","type":"quantitative","scale":{"domain":[0,105.6],"nice":false,"zero":false},"axis":null}}},
 {"data":{"name":"events"},"transform":[{"filter":"datum.leg === 'left'"}],"mark":{"type":"rule","color":"#b0b0b0","strokeDash":[2,2],"strokeWidth":1},"encoding":{"x":{"field":"x","type":"quantitative"}}},
 {"data":{"values":[{}]},"mark":{"type":"text","text":"GM","align":"left","baseline":"middle","fontSize":15},"encoding":{"x":{"datum":1.9},"y":{"datum":44.8,"axis":null}}},
 {"data":{"name":"scaleB"},"layer":[
  {"mark":{"type":"rule","color":"#888"},"encoding":{"x":{"datum":104.8},"y":{"field":"lo","type":"quantitative","axis":null},"y2":{"field":"hi"}}},
  {"mark":{"type":"rule","color":"#888"},"encoding":{"x":{"datum":102.7},"x2":{"datum":106.9},"y":{"field":"lo","type":"quantitative","axis":null}}},
  {"mark":{"type":"rule","color":"#888"},"encoding":{"x":{"datum":102.7},"x2":{"datum":106.9},"y":{"field":"hi","type":"quantitative","axis":null}}},
  {"mark":{"type":"text","align":"left","baseline":"middle","fontSize":15},"encoding":{"x":{"datum":107.7},"y":{"datum":53.3,"axis":null},"text":{"field":"label"}}}
 ]}
]}
]
}
